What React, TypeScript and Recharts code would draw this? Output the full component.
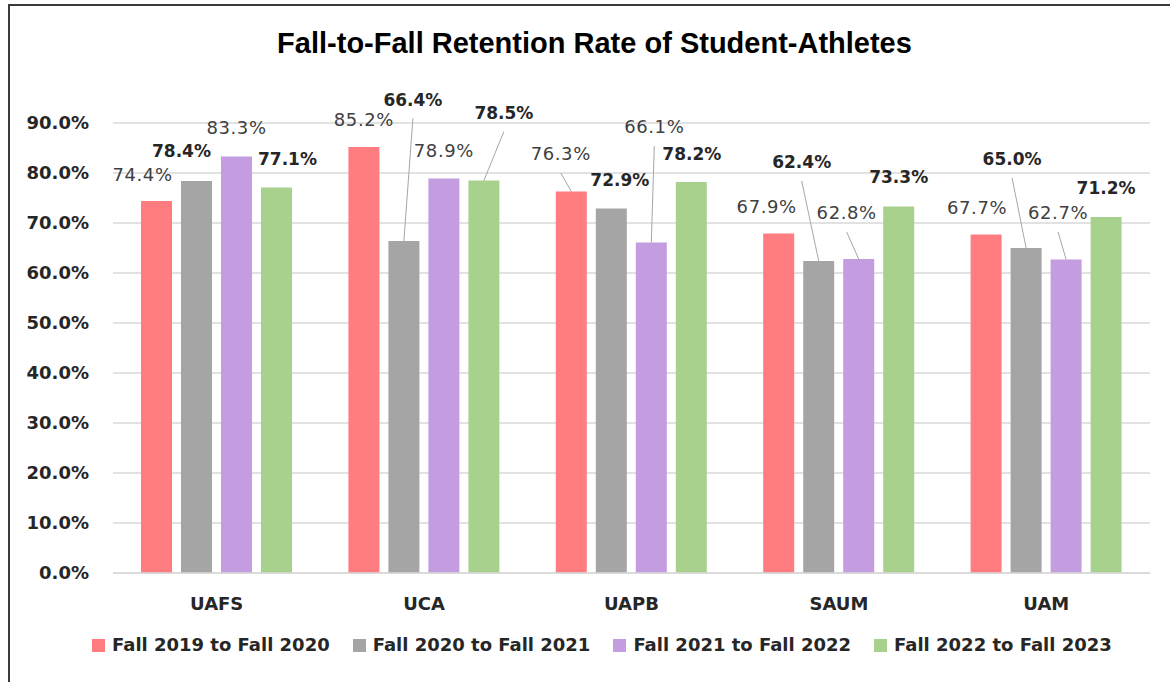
import React from 'react';
import { BarChart, Bar, XAxis, YAxis, CartesianGrid, LabelList } from 'recharts';

const CATEGORIES = ['UAFS', 'UCA', 'UAPB', 'SAUM', 'UAM'];
const FALL_2019_TO_2020 = [74.4, 85.2, 76.3, 67.9, 67.7];
const FALL_2020_TO_2021 = [78.4, 66.4, 72.9, 62.4, 65.0];
const FALL_2021_TO_2022 = [83.3, 78.9, 66.1, 62.8, 62.7];
const FALL_2022_TO_2023 = [77.1, 78.5, 78.2, 73.3, 71.2];
const Y_TICKS = [0, 10, 20, 30, 40, 50, 60, 70, 80, 90];

const FONT = '"DejaVu Sans", sans-serif';

const SERIES = [
  { key: 's1', name: 'Fall 2019 to Fall 2020', values: FALL_2019_TO_2020, color: '#FF7C80', bold: false },
  { key: 's2', name: 'Fall 2020 to Fall 2021', values: FALL_2020_TO_2021, color: '#A5A5A5', bold: true },
  { key: 's3', name: 'Fall 2021 to Fall 2022', values: FALL_2021_TO_2022, color: '#C49DE0', bold: false },
  { key: 's4', name: 'Fall 2022 to Fall 2023', values: FALL_2022_TO_2023, color: '#A9D18E', bold: true },
];

// hand-moved label spots, [dx, dy, leader line] from the bar's top centre
const LABEL_NUDGE: [number, number, boolean][][] = [
  [[-14, -26, false], [0, -27.5, false], [-10.5, -37.5, true], [-12, -26.5, false], [-9, -26.5, false]],
  [[-15, -30, false], [9, -141.5, true], [8.5, -28.5, false], [-17, -99, true], [-14, -89, true]],
  [[0, -29, false], [0, -28, false], [3, -115.5, true], [-12, -46, true], [-8, -46.5, true]],
  [[11, -29, false], [20, -68, true], [0.5, -28, false], [0, -29.5, false], [0, -29, false]],
];

const data = CATEGORIES.map((name, i) => {
  const row: Record<string, string | number> = { name };
  SERIES.forEach((s) => {
    row[s.key] = s.values[i];
  });
  return row;
});

function makeLabel(seriesIdx: number, bold: boolean) {
  return (props: any) => {
    const { x, y, width, value, index } = props;
    const [dx, dy, leader] = LABEL_NUDGE[seriesIdx][index];
    const cx = Number(x) + Number(width) / 2;
    const top = Number(y);
    const lx = cx + dx;
    const ly = top + dy;
    return (
      <g>
        {leader && (
          <line x1={lx} y1={ly + 19} x2={cx} y2={top} stroke="#A6A6A6" strokeWidth={1} />
        )}
        <text
          x={lx}
          y={ly}
          dy="0.36em"
          textAnchor="middle"
          fontFamily={FONT}
          fontSize={bold ? 17 : 18}
          fontWeight={bold ? 700 : 400}
          letterSpacing={bold ? 0 : 0.6}
          fill={bold ? '#262626' : '#404040'}
        >
          {Number(value).toFixed(1)}%
        </text>
      </g>
    );
  };
}

export default function App() {
  return (
    <div
      style={{
        position: 'absolute',
        left: 0,
        top: 0,
        width: 1170,
        height: 682,
        background: '#fff',
        overflow: 'hidden',
      }}
    >
      <div
        style={{
          position: 'absolute',
          left: 8,
          top: 4,
          right: -10,
          bottom: -10,
          borderLeft: '2px solid #3a3a3a',
          borderTop: '2px solid #3a3a3a',
        }}
      />
      <div
        style={{
          position: 'absolute',
          left: 0,
          width: 1189,
          top: 29,
          textAlign: 'center',
          fontFamily: '"Liberation Sans", Arial, sans-serif',
          fontWeight: 700,
          fontSize: 29,
          lineHeight: '29px',
          color: '#000',
          whiteSpace: 'nowrap',
        }}
      >
        Fall-to-Fall Retention Rate of Student-Athletes
      </div>
      <div style={{ position: 'absolute', left: 0, top: 0 }}>
        <BarChart
          width={1170}
          height={682}
          data={data}
          margin={{ top: 123, right: 20, bottom: 79, left: 13 }}
          barCategoryGap={28}
          barGap={9}
        >
          <CartesianGrid vertical={false} stroke="#D9D9D9" strokeWidth={1.5} />
          <XAxis
            dataKey="name"
            height={30}
            axisLine={{ stroke: '#D9D9D9', strokeWidth: 1.5 }}
            tickLine={false}
            tickSize={6}
            tickMargin={18}
            tick={{ fontFamily: FONT, fontSize: 18, fontWeight: 700, fill: '#262626' }}
          />
          <YAxis
            width={100}
            domain={[0, 90]}
            ticks={Y_TICKS}
            interval={0}
            axisLine={false}
            tickLine={false}
            tickSize={6}
            tickMargin={18}
            tickFormatter={(v: number) => `${v.toFixed(1)}%`}
            tick={{ fontFamily: FONT, fontSize: 18, fontWeight: 700, fill: '#262626' }}
          />
          {SERIES.map((s, i) => (
            <Bar key={s.key} dataKey={s.key} name={s.name} fill={s.color} isAnimationActive={false}>
              <LabelList dataKey={s.key} content={makeLabel(i, s.bold)} />
            </Bar>
          ))}
        </BarChart>
      </div>
      <div
        style={{
          position: 'absolute',
          left: 92,
          top: 635,
          display: 'flex',
          alignItems: 'center',
          fontFamily: FONT,
          fontWeight: 700,
          fontSize: 18,
          lineHeight: '20px',
          color: '#262626',
        }}
      >
        {SERIES.map((s, i) => (
          <div key={s.key} style={{ display: 'flex', alignItems: 'center', marginLeft: i === 0 ? 0 : 23 }}>
            <span style={{ display: 'inline-block', width: 13, height: 13, background: s.color }} />
            <span style={{ marginLeft: 7, whiteSpace: 'nowrap' }}>{s.name}</span>
          </div>
        ))}
      </div>
    </div>
  );
}
